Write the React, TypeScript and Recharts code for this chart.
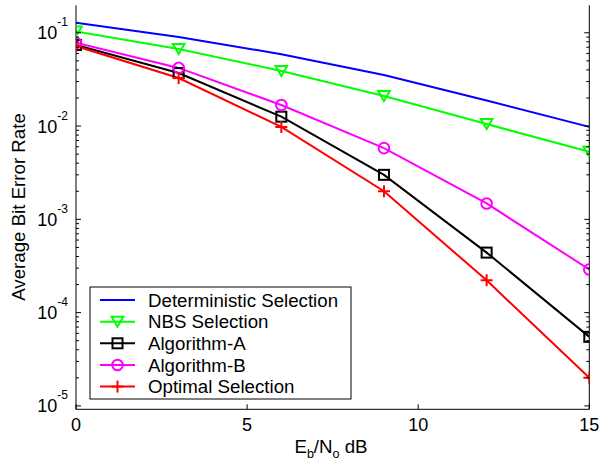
import React from 'react';
import { LineChart, Line, XAxis, YAxis, Customized } from 'recharts';

const snr = [0, 3, 6, 9, 12, 15];
const deterministic = [0.128, 0.09, 0.059, 0.0352, 0.0188, 0.0098];
const nbs = [0.103, 0.067, 0.039, 0.021, 0.0105, 0.0053];
const algorithmA = [0.074, 0.037, 0.0126, 0.003, 0.00044, 5.5e-5];
const algorithmB = [0.078, 0.042, 0.0168, 0.0058, 0.00148, 0.00029];
const optimal = [0.072, 0.0327, 0.0098, 0.002, 0.000222, 2.0e-5];

const seriesNames = [
  'Deterministic Selection',
  'NBS Selection',
  'Algorithm-A',
  'Algorithm-B',
  'Optimal Selection',
];
const xTicks = [0, 5, 10, 15];
const xLabel = ['E', 'b', '/N', 'o', ' dB'];
const yLabel = 'Average Bit Error Rate';

const FONT = 'Liberation Sans, Arial, Helvetica, sans-serif';
const Y_DOMAIN: [number, number] = [9.2e-6, 0.197];

const data = snr.map((x, i) => ({
  x,
  det: deterministic[i],
  nbs: nbs[i],
  algA: algorithmA[i],
  algB: algorithmB[i],
  opt: optimal[i],
}));

const series = [
  { key: 'det', name: seriesNames[0], color: '#0000FF', marker: 'none' },
  { key: 'nbs', name: seriesNames[1], color: '#00FF00', marker: 'tri' },
  { key: 'algA', name: seriesNames[2], color: '#000000', marker: 'square' },
  { key: 'algB', name: seriesNames[3], color: '#FF00FF', marker: 'circle' },
  { key: 'opt', name: seriesNames[4], color: '#FF0000', marker: 'plus' },
];

// all log ticks (major + minor) inside the domain
const yTicks: number[] = [];
for (let d = -6; d <= -1; d++) {
  for (let k = 1; k <= 9; k++) {
    const v = k * Math.pow(10, d);
    if (v >= Y_DOMAIN[0] && v <= Y_DOMAIN[1]) yTicks.push(v);
  }
}

const isMajor = (v: number) => {
  const l = Math.log10(v);
  return Math.abs(l - Math.round(l)) < 1e-6;
};

function Marker({ cx, cy, type, color }: any) {
  if (cx == null || cy == null) return null;
  const sw = 2;
  if (type === 'tri') {
    return (
      <polygon
        points={`${cx - 5.8},${cy - 5} ${cx + 5.8},${cy - 5} ${cx},${cy + 5}`}
        fill="none"
        stroke={color}
        strokeWidth={sw}
      />
    );
  }
  if (type === 'square') {
    return <rect x={cx - 5} y={cy - 5} width={10} height={10} fill="none" stroke={color} strokeWidth={sw} />;
  }
  if (type === 'circle') {
    return <circle cx={cx} cy={cy} r={5.3} fill="none" stroke={color} strokeWidth={sw} />;
  }
  if (type === 'plus') {
    return (
      <g stroke={color} strokeWidth={sw}>
        <line x1={cx - 6} y1={cy} x2={cx + 6} y2={cy} />
        <line x1={cx} y1={cy - 6} x2={cx} y2={cy + 6} />
      </g>
    );
  }
  return null;
}

const LeftTick = (props: any) => {
  const { x, y, payload } = props;
  const v = payload.value;
  const major = isMajor(v);
  const exp = Math.round(Math.log10(v));
  return (
    <g>
      <line x1={x} y1={y} x2={x + (major ? 5 : 3)} y2={y} stroke="#000" strokeWidth={1} />
      {major && (
        <text x={x - 8} y={y + 6.5} textAnchor="end" fontSize={18} fontFamily={FONT} fill="#000">
          <tspan>10</tspan>
          <tspan dy={-13} fontSize={12}>{String(exp)}</tspan>
        </text>
      )}
    </g>
  );
};

const RightTick = (props: any) => {
  const { x, y, payload } = props;
  const major = isMajor(payload.value);
  return <line x1={x} y1={y} x2={x - (major ? 5 : 3)} y2={y} stroke="#000" strokeWidth={1} />;
};

const BottomTick = (props: any) => {
  const { x, y, payload } = props;
  return (
    <g>
      <line x1={x} y1={y} x2={x} y2={y - 5} stroke="#000" strokeWidth={1} />
      <text x={x} y={y + 22} textAnchor="middle" fontSize={18} fontFamily={FONT} fill="#000">
        {String(payload.value)}
      </text>
    </g>
  );
};

const TopTick = (props: any) => {
  const { x, y } = props;
  return <line x1={x} y1={y} x2={x} y2={y + 5} stroke="#000" strokeWidth={1} />;
};

const Overlay = () => {
  const lx = 90;
  const ly = 287;
  const lw = 261;
  const lh = 112;
  const rowY0 = 300;
  const rowStep = 21.65;
  return (
    <g>
      {/* axis labels */}
      <text
        transform="translate(25,207) rotate(-90)"
        textAnchor="middle"
        fontSize={18.7}
        fontFamily={FONT}
        fill="#000"
      >
        {yLabel}
      </text>
      <text x={331} y={453} textAnchor="middle" fontSize={18.7} fontFamily={FONT} fill="#000">
        <tspan>{xLabel[0]}</tspan>
        <tspan dy={5} fontSize={12.5}>{xLabel[1]}</tspan>
        <tspan dy={-5}>{xLabel[2]}</tspan>
        <tspan dy={5} fontSize={12.5}>{xLabel[3]}</tspan>
        <tspan dy={-5}>{xLabel[4]}</tspan>
      </text>
      {/* legend */}
      <rect x={lx} y={ly} width={lw} height={lh} fill="#fff" stroke="#000" strokeWidth={1} />
      {series.map((s, i) => {
        const cy = rowY0 + i * rowStep;
        return (
          <g key={s.key}>
            <line x1={100} y1={cy} x2={135} y2={cy} stroke={s.color} strokeWidth={2} />
            <Marker cx={117.5} cy={cy} type={s.marker} color={s.color} />
            <text x={148} y={cy + 6.7} fontSize={18.7} fontFamily={FONT} fill="#000">
              {s.name}
            </text>
          </g>
        );
      })}
    </g>
  );
};

export default function App() {
  return (
    <div style={{ position: 'absolute', left: 0, top: 0, background: '#fff' }}>
      <LineChart
        width={608}
        height={465}
        data={data}
        margin={{ top: 5.3, right: 0, bottom: 0, left: 0 }}
      >
        <XAxis
          xAxisId="bottom"
          dataKey="x"
          type="number"
          domain={[0, 15]}
          ticks={xTicks}
          interval={0}
          orientation="bottom"
          height={55.7}
          tickSize={0}
          tickMargin={0}
          tickLine={false}
          axisLine={{ stroke: '#000', strokeWidth: 1 }}
          tick={<BottomTick />}
          allowDataOverflow
        />
        <XAxis
          xAxisId="top"
          dataKey="x"
          type="number"
          domain={[0, 15]}
          ticks={xTicks}
          interval={0}
          orientation="top"
          height={0}
          tickSize={0}
          tickMargin={0}
          tickLine={false}
          axisLine={{ stroke: '#000', strokeWidth: 1 }}
          tick={<TopTick />}
          allowDataOverflow
        />
        <YAxis
          yAxisId="left"
          orientation="left"
          scale="log"
          type="number"
          domain={Y_DOMAIN}
          ticks={yTicks}
          interval={0}
          width={76}
          tickSize={0}
          tickMargin={0}
          tickLine={false}
          axisLine={{ stroke: '#000', strokeWidth: 1 }}
          tick={<LeftTick />}
          allowDataOverflow
        />
        <YAxis
          yAxisId="right"
          orientation="right"
          scale="log"
          type="number"
          domain={Y_DOMAIN}
          ticks={yTicks}
          interval={0}
          width={18.7}
          tickSize={0}
          tickMargin={0}
          tickLine={false}
          axisLine={{ stroke: '#000', strokeWidth: 1 }}
          tick={<RightTick />}
          allowDataOverflow
        />
        {series.map((s) => (
          <Line
            key={s.key}
            xAxisId="bottom"
            yAxisId="left"
            type="linear"
            dataKey={s.key}
            name={s.name}
            stroke={s.color}
            strokeWidth={2}
            isAnimationActive={false}
            activeDot={false}
            dot={(p: any) => (
              <Marker key={`${s.key}-${p.index}`} cx={p.cx} cy={p.cy} type={s.marker} color={s.color} />
            )}
          />
        ))}
        <Customized component={Overlay} />
      </LineChart>
    </div>
  );
}
